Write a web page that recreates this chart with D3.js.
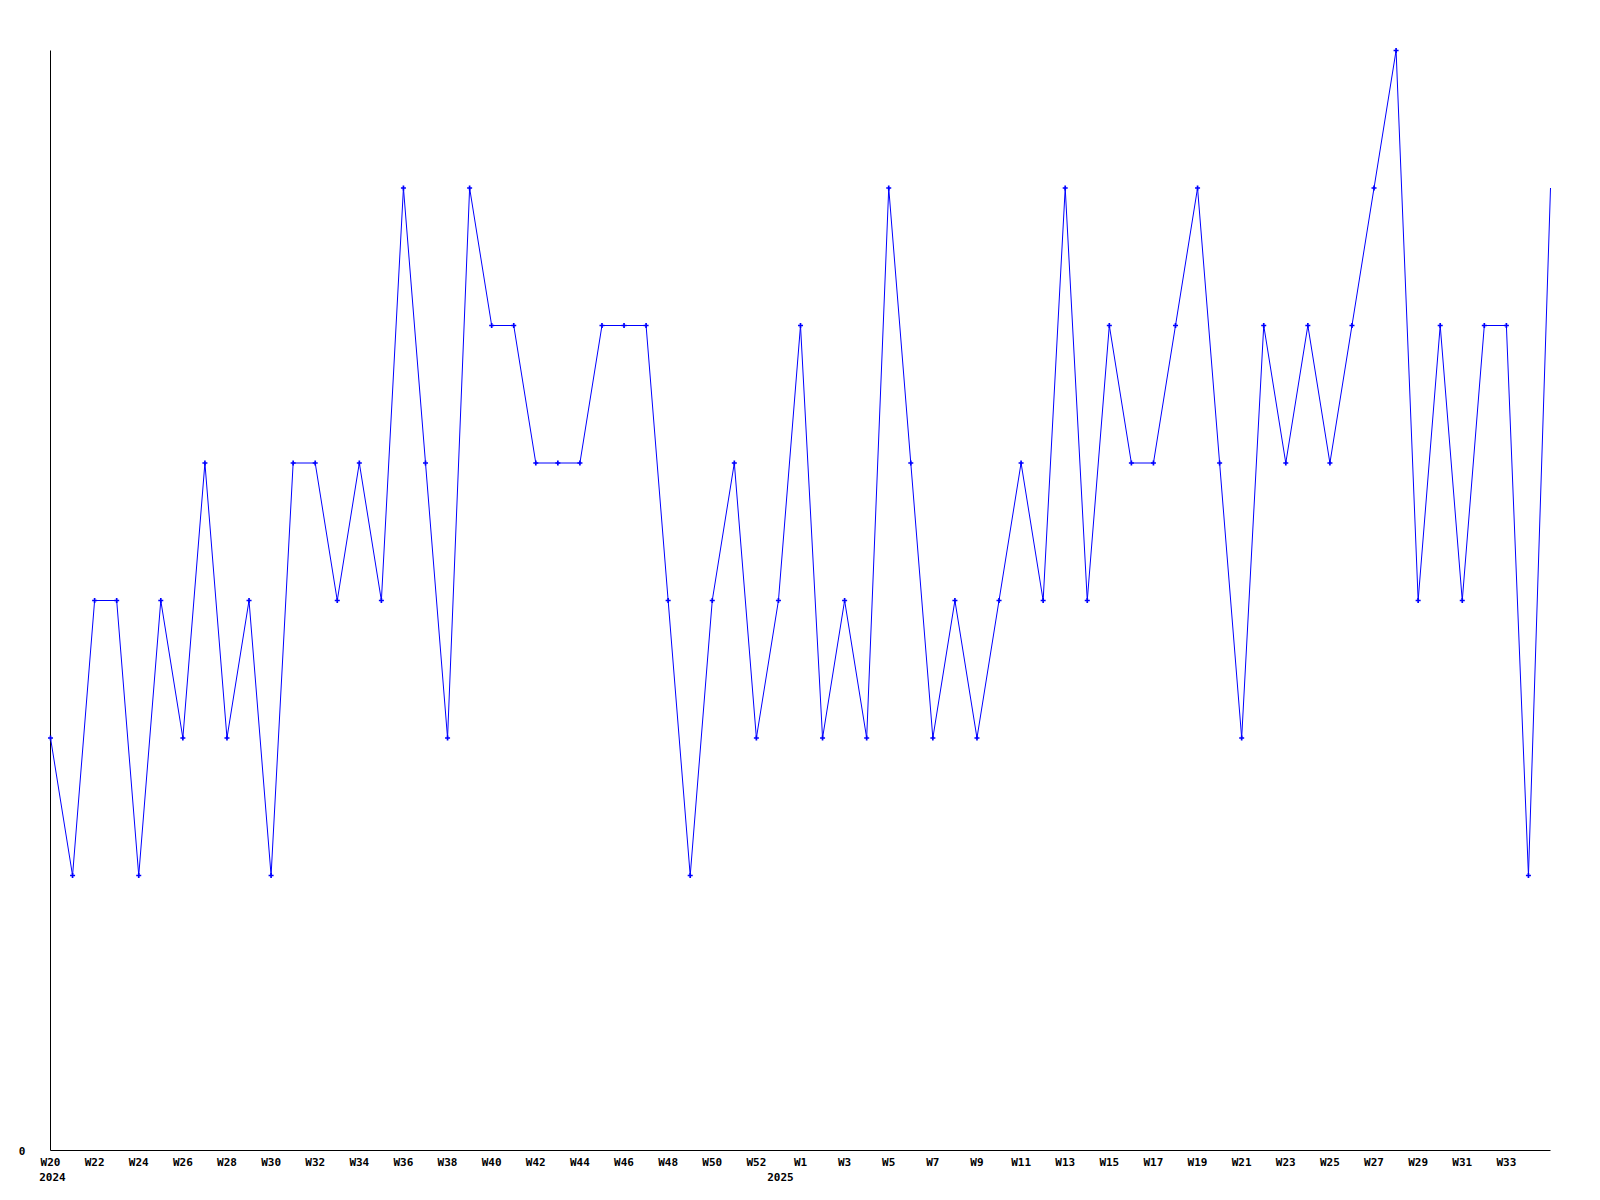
<!DOCTYPE html>
<html><head><meta charset="utf-8">
<script src="https://cdn.jsdelivr.net/npm/d3@7"></script>
<style>body{margin:0;background:#fff}svg{display:block}text{font-family:"DejaVu Sans Mono",monospace;font-weight:bold;font-size:11px;fill:#000}</style>
</head><body><svg id="c" width="1600" height="1200"></svg>
<script>
const weeks = ["W20","W21","W22","W23","W24","W25","W26","W27","W28","W29","W30","W31","W32","W33","W34","W35","W36","W37","W38","W39","W40","W41","W42","W43","W44","W45","W46","W47","W48","W49","W50","W51","W52","W53","W1","W2","W3","W4","W5","W6","W7","W8","W9","W10","W11","W12","W13","W14","W15","W16","W17","W18","W19","W20b","W21","W22","W23","W24","W25","W26","W27","W28","W29","W30","W31","W32","W33","W34","W35"];
const values = [3,2,4,4,2,4,3,5,3,4,2,5,5,4,5,4,7,5,3,7,6,6,5,5,5,6,6,6,4,2,4,5,3,4,6,3,4,3,7,5,3,4,3,4,5,4,7,4,6,5,5,6,7,5,3,6,5,6,5,6,7,8,4,6,4,6,6,2,7];
const tickIdx = [0,2,4,6,8,10,12,14,16,18,20,22,24,26,28,30,32,34,36,38,40,42,44,46,48,50,52,54,56,58,60,62,64,66];
const tickLabels = ["W20","W22","W24","W26","W28","W30","W32","W34","W36","W38","W40","W42","W44","W46","W48","W50","W52","W1","W3","W5","W7","W9","W11","W13","W15","W17","W19","W21","W23","W25","W27","W29","W31","W33"];
const yearIdx = [0,33];
const yearLabels = ["2024","2025"];
const yMax = 8;

const svg = d3.select("#c");
const x = d3.scaleLinear().domain([0, values.length-1]).range([50.5, 1550.5]);
const y = d3.scaleLinear().domain([0, yMax]).range([1150.5, 50.5]);

// axes lines
svg.append("line").attr("x1",50.5).attr("x2",50.5).attr("y1",y(yMax)).attr("y2",y(0)).attr("stroke","#000");
svg.append("line").attr("x1",50.5).attr("x2",x(values.length-1)).attr("y1",y(0)).attr("y2",y(0)).attr("stroke","#000");

svg.append("text").attr("x",22).attr("y",y(0)+4).attr("text-anchor","middle").text("0");

svg.selectAll("text.tk").data(tickIdx).enter().append("text").attr("class","tk")
  .attr("x",d=>x(d)).attr("y",y(0)+15).attr("text-anchor","middle").text((d,i)=>tickLabels[i]);
svg.selectAll("text.yr").data(yearIdx).enter().append("text").attr("class","yr")
  .attr("x",d=>x(d)+2).attr("y",y(0)+30).attr("text-anchor","middle").text((d,i)=>yearLabels[i]);

const line = d3.line().x((d,i)=>x(i)).y(d=>y(d));
svg.append("path").datum(values).attr("d",line).attr("fill","none").attr("stroke","#0000ff").attr("stroke-width",1);

const cross = d3.symbol().type(d3.symbolCross).size(14);
svg.selectAll("path.m").data(values.slice(0,values.length-1)).enter().append("path").attr("class","m")
  .attr("transform",(d,i)=>`translate(${x(i)},${y(d)})`).attr("d",cross).attr("fill","#0000ff");
</script></body></html>
